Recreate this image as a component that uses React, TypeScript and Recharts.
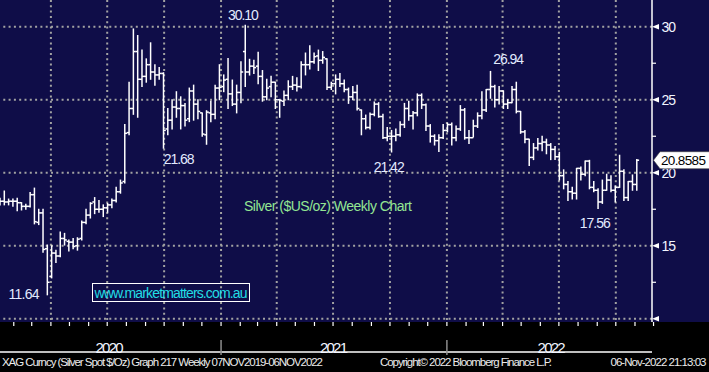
import { ComposedChart, Bar, XAxis, YAxis, CartesianGrid, ReferenceDot } from "recharts";

// Weekly OHLC for XAG (silver spot), week ending Friday, first bar 3 Jan 2020
const opens = [
  17.85, 18.05, 18.0, 18.05, 18.05, 17.95, 17.7, 17.7, 18.5, 16.6,
  17.25, 14.8, 12.9, 14.5, 14.3, 15.5, 15.3, 15.25, 15.0, 15.5,
  16.6, 17.1, 18.0, 17.5, 17.5, 17.6, 17.8, 18.1, 18.7, 19.4,
  22.75, 24.4, 28.3, 26.4, 26.6, 27.4, 26.9, 26.7, 26.8, 23.0,
  23.6, 24.5, 24.4, 24.6, 23.7, 25.6, 24.7, 24.1, 22.6, 24.1,
  24.0, 25.8, 25.9, 26.4, 25.4, 24.7, 25.5, 28.3, 26.9, 27.3,
  27.3, 26.6, 25.2, 25.9, 26.2, 25.0, 24.9, 25.3, 25.9, 26.0,
  25.9, 27.4, 27.4, 27.6, 28.0, 27.7, 27.8, 25.85, 26.1, 26.4,
  26.1, 25.7, 25.2, 25.5, 24.3, 23.7, 23.1, 24.0, 24.7, 23.85,
  22.4, 22.5, 22.5, 22.6, 23.3, 24.4, 23.9, 24.1, 25.3, 24.65,
  23.2, 22.5, 22.2, 22.4, 22.9, 23.3, 22.4, 23.0, 24.3, 22.4,
  22.4, 23.2, 23.9, 24.3, 25.7, 25.9, 25.0, 25.6, 24.7, 24.8,
  25.7, 24.2, 22.8, 22.3, 21.05, 21.7, 22.0, 22.1, 21.9, 21.6,
  21.1, 19.8, 19.2, 18.7, 18.6, 20.3, 19.9, 20.8, 19.0, 18.8,
  18.0, 18.8, 19.5, 18.8, 19.0, 20.1, 18.3, 19.4, 19.2,
];
const highs = [
  18.25, 18.75, 18.2, 18.2, 18.25, 17.95, 17.85, 18.65, 18.95, 17.5,
  17.5, 15.05, 15.0, 14.7, 15.95, 15.85, 15.4, 15.5, 15.55, 16.7,
  17.5, 17.95, 18.3, 18.1, 17.8, 17.9, 18.2, 19.0, 19.5, 23.3,
  26.2, 29.85, 29.4, 28.4, 27.8, 28.9, 27.4, 27.2, 26.85, 24.4,
  25.0, 25.55, 25.2, 24.75, 25.8, 26.0, 25.0, 24.1, 24.25, 24.9,
  26.0, 27.4, 26.7, 27.83, 26.35, 26.0, 27.6, 30.1, 27.77, 27.7,
  28.25, 27.0, 26.4, 26.6, 26.2, 25.0, 25.6, 26.3, 26.6, 26.5,
  27.6, 28.2, 28.7, 28.2, 28.4, 28.3, 27.8, 26.2, 26.7, 26.8,
  26.35, 25.8, 25.9, 26.0, 24.3, 23.95, 24.1, 24.85, 24.8, 24.0,
  23.1, 22.9, 23.0, 23.5, 24.75, 24.9, 24.2, 25.4, 25.4, 24.7,
  23.3, 22.6, 22.6, 23.3, 23.4, 23.4, 23.2, 24.6, 24.4, 22.9,
  23.6, 24.1, 25.55, 25.7, 26.94, 26.0, 25.9, 25.6, 25.0, 25.9,
  26.2, 24.2, 22.9, 22.3, 22.0, 22.35, 22.5, 22.3, 22.0, 21.8,
  21.4, 20.2, 19.4, 19.0, 20.3, 20.4, 20.8, 20.85, 19.4, 18.9,
  19.5, 19.9, 19.8, 19.1, 21.2, 20.2, 19.4, 19.85, 20.9,
];
const lows = [
  17.8, 17.8, 17.8, 17.7, 17.4, 17.45, 17.5, 17.65, 16.5, 16.45,
  14.55, 11.64, 12.8, 13.85, 14.25, 15.05, 14.65, 14.8, 14.7, 15.4,
  16.5, 16.9, 17.2, 17.3, 17.0, 17.3, 17.6, 18.0, 18.6, 19.3,
  22.6, 24.0, 23.8, 25.9, 26.2, 26.4, 26.0, 26.4, 21.68, 22.6,
  23.0, 23.8, 23.0, 23.2, 23.5, 23.6, 23.7, 22.5, 21.95, 23.5,
  23.7, 25.0, 25.55, 24.4, 24.6, 24.1, 24.8, 25.9, 26.69, 26.8,
  26.1, 24.9, 25.0, 25.2, 24.4, 23.8, 24.6, 25.0, 25.7, 25.6,
  25.8, 26.7, 27.1, 27.5, 27.0, 27.5, 25.7, 25.7, 25.4, 25.9,
  25.55, 24.75, 25.0, 24.3, 22.6, 23.0, 23.0, 23.9, 23.8, 22.35,
  22.2, 21.42, 22.2, 22.5, 23.1, 23.6, 23.0, 23.9, 24.4, 22.9,
  22.1, 21.9, 21.45, 22.35, 22.8, 21.9, 22.2, 22.9, 22.3, 22.0,
  22.45, 23.1, 23.7, 24.2, 25.1, 24.5, 24.7, 24.4, 24.4, 24.8,
  24.1, 22.7, 22.05, 20.5, 20.9, 21.55, 21.5, 21.3, 20.9, 20.9,
  19.5, 18.9, 18.1, 18.2, 18.2, 19.5, 19.8, 18.9, 18.7, 17.56,
  17.9, 18.8, 18.7, 18.0, 19.0, 18.1, 18.1, 18.8, 18.8,
];
const closes = [
  18.05, 18.0, 18.05, 18.05, 17.95, 17.7, 17.7, 18.5, 16.65, 17.25,
  14.75, 12.5, 14.5, 14.3, 15.5, 15.4, 15.25, 14.95, 15.45, 16.6,
  17.1, 17.9, 17.5, 17.5, 17.6, 17.8, 18.1, 18.7, 19.3, 22.7,
  24.4, 28.3, 26.4, 26.6, 27.4, 26.9, 26.7, 26.8, 22.9, 23.6,
  24.5, 24.4, 24.6, 23.6, 25.6, 24.7, 24.2, 22.65, 24.15, 24.0,
  25.8, 25.85, 26.35, 25.4, 24.7, 25.5, 26.9, 26.9, 27.3, 27.2,
  26.6, 25.2, 25.8, 26.2, 25.0, 24.95, 25.3, 25.9, 26.0, 25.9,
  27.4, 27.4, 27.6, 27.95, 27.7, 27.9, 25.85, 26.1, 26.4, 26.1,
  25.7, 25.2, 25.5, 24.4, 23.7, 23.1, 24.0, 24.7, 23.85, 22.4,
  22.5, 22.5, 22.6, 23.3, 24.4, 23.9, 24.1, 25.3, 24.65, 23.2,
  22.5, 22.2, 22.4, 22.9, 23.3, 22.4, 23.0, 24.3, 22.4, 22.4,
  23.2, 23.9, 24.3, 25.7, 25.9, 25.0, 25.6, 24.7, 24.8, 25.7,
  24.2, 22.8, 22.3, 21.05, 21.7, 22.0, 22.1, 21.9, 21.6, 21.1,
  19.8, 19.2, 18.7, 18.6, 20.3, 19.9, 20.8, 19.0, 18.8, 18.0,
  18.8, 19.5, 18.8, 19.0, 20.1, 18.3, 19.4, 19.2, 20.8585,
];

const lastPrice = 20.8585;
const priceTicks = [10, 12.5, 15, 17.5, 20, 22.5, 25, 27.5, 30];
const quarterDates = [
  "2020-04-01", "2020-07-01", "2020-10-01", "2021-01-01", "2021-04-01", "2021-07-01",
  "2021-10-01", "2022-01-01", "2022-04-01", "2022-07-01", "2022-10-01",
];
const yearStarts = ["2021-01-01", "2022-01-01"];
const yearNames = ["2020", "2021", "2022"];

const annotations = [
  { week: 57, value: 30.1, text: "30.10", dx: -2, dy: -5, anchor: "middle" },
  { week: 38, value: 21.68, text: "21.68", dx: 0, dy: 16, anchor: "start" },
  { week: 11, value: 11.64, text: "11.64", dx: -8, dy: 4.5, anchor: "end" },
  { week: 91, value: 21.42, text: "21.42", dx: -2.5, dy: 19.5, anchor: "middle" },
  { week: 114, value: 26.94, text: "26.94", dx: 2.5, dy: -7.5, anchor: "start" },
  { week: 139, value: 17.56, text: "17.56", dx: -3, dy: 20, anchor: "middle" },
];

const DAY = 86400000;
const firstFriday = Date.UTC(2020, 0, 3);
const slots = 152; // 149 weekly bars plus empty room before the price axis

const weeks = Array.from({ length: slots }, (_, i) =>
  new Date(firstFriday + i * 7 * DAY).toISOString().slice(0, 10)
);
const rows = weeks.map((week, i) =>
  i < opens.length
    ? { week, open: opens[i], high: highs[i], low: lows[i], close: closes[i], range: [lows[i], highs[i]] }
    : { week }
);

// time axis position (in week slots) of a calendar date
const pos = (d: string) => (Date.parse(d) - firstFriday) / (7 * DAY) - 0.5;

const monthDates: string[] = [];
for (let y = 2020; y <= 2022; y++) {
  for (let m = 1; m <= 12; m++) {
    if (y === 2020 && m === 1) continue;
    monthDates.push(`${y}-${String(m).padStart(2, "0")}-01`);
  }
}
const bounds = [0, ...yearStarts.map(pos), slots];
const yearLabels = yearNames.map((text, i) => ({ text, u: (bounds[i] + bounds[i + 1]) / 2 }));
const timeTicks = [...monthDates.map(pos), ...yearLabels.map((l) => l.u)].sort((a, b) => a - b);

const NAVY = "#0f0d48";
const FONT = "'Liberation Sans', Arial, sans-serif";
const CHART_H = 372;
const TIME_AXIS_H = 50;
const AXIS_Y = CHART_H - TIME_AXIS_H;

function OhlcBar(props: any) {
  const { x, y, width, height, payload } = props;
  if (payload == null || payload.high == null || !isFinite(y) || !isFinite(height)) return null;
  const top = Math.min(y, y + height);
  const bottom = Math.max(y, y + height);
  const span = payload.high - payload.low;
  const at = (v: number) => (span > 0 ? top + ((payload.high - v) / span) * (bottom - top) : top);
  const cx = x + width / 2;
  return (
    <g stroke="#ffffff" strokeWidth={1.5}>
      <line x1={cx} x2={cx} y1={top - 0.5} y2={bottom + 0.5} />
      <line x1={cx - 2.3} x2={cx} y1={at(payload.open)} y2={at(payload.open)} />
      <line x1={cx} x2={cx + 2.3} y1={at(payload.close)} y2={at(payload.close)} />
    </g>
  );
}

function PriceTick(props: any) {
  const { x, y, payload } = props;
  const v = payload.value;
  if (v === lastPrice) {
    return (
      <g>
        <polygon
          points={`${x + 1.5},${y} ${x + 8},${y - 8.5} ${x + 58},${y - 8.5} ${x + 58},${y + 8.5} ${x + 8},${y + 8.5}`}
          fill="#ffffff"
          stroke="#444"
          strokeWidth={0.6}
        />
        <text x={x + 9} y={y + 5} fontSize={13.5} fill="#000" fontFamily={FONT} textLength={45}>
          {v.toFixed(4)}
        </text>
      </g>
    );
  }
  if (v % 5 === 0) {
    return (
      <g>
        <polygon points={`${x},${y} ${x + 7},${y - 2.8} ${x + 7},${y + 2.8}`} fill="#ffffff" />
        {v !== 10 && (
          <text x={x + 9.5} y={y + 5.5} fontSize={14} fill="#f2f5ff" fontFamily={FONT} textLength={14.5}>
            {v}
          </text>
        )}
      </g>
    );
  }
  return <line x1={x} x2={x + 4} y1={y} y2={y} stroke="#ffffff" strokeWidth={1.2} />;
}

function TimeTick(props: any) {
  const { x, payload } = props;
  const v = payload.value;
  const y = AXIS_Y;
  const label = yearLabels.find((l) => Math.abs(l.u - v) < 1e-6);
  if (label) {
    return (
      <text x={x} y={y + 31} textAnchor="middle" fontSize={15} fill="#f2f5ff" fontFamily={FONT} textLength={28}>
        {label.text}
      </text>
    );
  }
  const isYear = yearStarts.some((d) => Math.abs(pos(d) - v) < 1e-6);
  return (
    <g>
      <line x1={x} x2={x} y1={y} y2={y + 4} stroke="#ffffff" strokeWidth={1.2} />
      {isYear && <line x1={x} x2={x} y1={y + 18} y2={y + 33} stroke="#8c8c8c" strokeWidth={1.5} />}
    </g>
  );
}

export default function App() {
  return (
    <div
      style={{
        position: "fixed",
        left: 0,
        top: 0,
        width: 709,
        height: 372,
        overflow: "hidden",
        background: "#000",
        fontFamily: FONT,
      }}
    >
      <div style={{ position: "absolute", left: 0, top: 0, width: 709, height: AXIS_Y, background: NAVY }} />
      <div style={{ position: "absolute", left: -2, top: 0 }}>
        <ComposedChart width={713} height={CHART_H} data={rows} margin={{ top: 0, right: 0, bottom: 0, left: 0 }}>
          <CartesianGrid
            xAxisId="t"
            stroke="#a2a2a2"
            strokeWidth={2}
            strokeDasharray="2 3.3"
            horizontalValues={[10, 15, 20, 25, 30]}
            verticalValues={quarterDates.map(pos)}
          />
          <XAxis dataKey="week" hide />
          <XAxis
            xAxisId="t"
            type="number"
            domain={[0, slots]}
            allowDataOverflow
            ticks={timeTicks}
            interval={0}
            height={TIME_AXIS_H}
            tickSize={0}
            tickMargin={0}
            tickLine={false}
            axisLine={{ stroke: "#ffffff", strokeWidth: 1.5 }}
            tick={TimeTick}
          />
          <YAxis
            orientation="right"
            type="number"
            width={59}
            domain={[9.78, 31.83]}
            allowDataOverflow
            ticks={[...priceTicks, lastPrice]}
            interval={0}
            tickSize={0}
            tickMargin={0}
            tickLine={false}
            axisLine={{ stroke: "#ffffff", strokeWidth: 1.5 }}
            tick={PriceTick}
          />
          <Bar dataKey="range" barSize={4} isAnimationActive={false} shape={OhlcBar} />
          {annotations.map((a) => (
            <ReferenceDot
              key={a.text}
              x={weeks[a.week]}
              y={a.value}
              r={0}
              shape={(p: any) => (
                <text
                  x={p.cx + a.dx}
                  y={p.cy + a.dy}
                  textAnchor={a.anchor as any}
                  fontSize={14}
                  fill="#e2eaff"
                  fontFamily={FONT}
                  textLength={31}
                >
                  {a.text}
                </text>
              )}
            />
          ))}
        </ComposedChart>
      </div>
      <svg
        width={709}
        height={372}
        style={{ position: "absolute", left: 0, top: 0, pointerEvents: "none" }}
        fontFamily={FONT}
      >
        <text x={244} y={211} fontSize={14} fill="#93e693" textLength={168}>
          Silver ($US/oz) Weekly Chart
        </text>
        <rect x={92.5} y={283.5} width={157} height={18} fill="none" stroke="#ffffff" strokeWidth={1} />
        <text x={94.5} y={297.5} fontSize={14} fill="#22dde4" textLength={153}>
          www.marketmatters.com.au
        </text>
        <text x={2} y={366} fontSize={11.5} fill="#ececec" textLength={321}>
          XAG Curncy (Silver Spot  $/Oz) Graph 217  Weekly 07NOV2019-06NOV2022
        </text>
        <text x={380} y={366} fontSize={11.5} fill="#ececec" textLength={172}>
          Copyright© 2022 Bloomberg Finance L.P.
        </text>
        <text x={610.5} y={366} fontSize={11.5} fill="#ececec" textLength={96}>
          06-Nov-2022 21:13:03
        </text>
      </svg>
    </div>
  );
}
